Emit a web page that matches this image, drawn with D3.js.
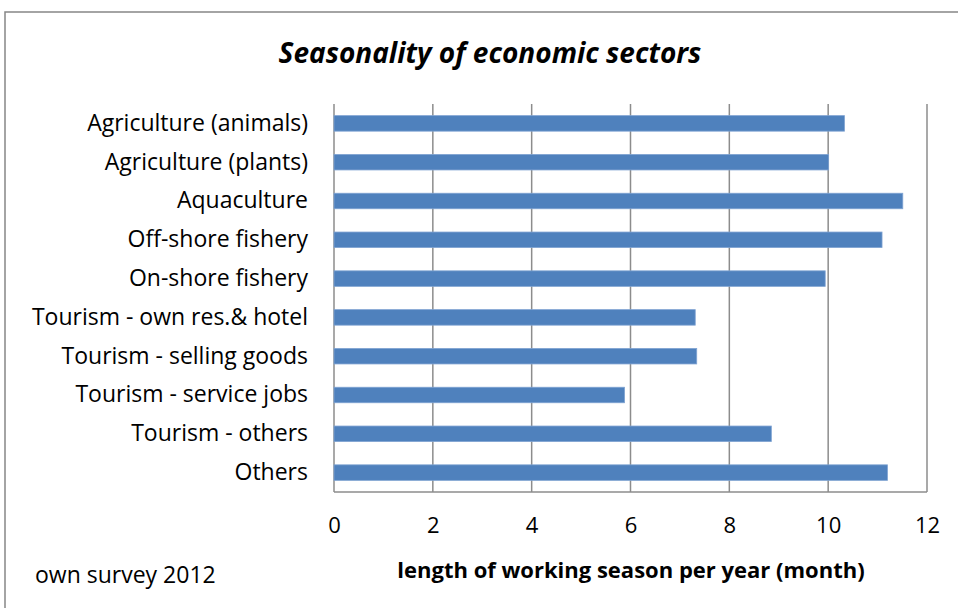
<!DOCTYPE html>
<html>
<head>
<meta charset="utf-8">
<script src="https://cdn.jsdelivr.net/npm/d3@7"></script>
<style>
  html, body { margin: 0; padding: 0; background: #fff; }
  svg { display: block; }
  text { font-family: "Open Sans", Lato, "Liberation Sans", sans-serif; fill: #000; }
</style>
</head>
<body>
<svg id="chart" width="958" height="608"></svg>
<script>
// Sectors, top to bottom
const sectors = [
  "Agriculture (animals)",
  "Agriculture (plants)",
  "Aquaculture",
  "Off-shore fishery",
  "On-shore fishery",
  "Tourism - own res.& hotel",
  "Tourism - selling goods",
  "Tourism - service jobs",
  "Tourism - others",
  "Others"
];
// Average length of working season (months)
const months = [10.33, 10.01, 11.51, 11.09, 9.94, 7.31, 7.34, 5.88, 8.85, 11.2];
// X axis ticks
const xTicks = [0, 2, 4, 6, 8, 10, 12];

const svg = d3.select("#chart");
const W = 958, H = 608;
const plot = { left: 334, right: 927, top: 104, bottom: 492 };
const FONT = "'Open Sans', Lato, sans-serif";

// Outer frame of the chart
svg.append("rect")
  .attr("x", 5).attr("y", 12)
  .attr("width", W).attr("height", H)
  .attr("fill", "#fff")
  .attr("stroke", "#868686").attr("stroke-width", 1.5);

const x = d3.scaleLinear().domain([0, 12]).range([plot.left, plot.right]);
const y = d3.scaleBand().domain(sectors).range([plot.top, plot.bottom]).paddingInner(0.6).paddingOuter(0.3);

// Vertical gridlines
svg.append("g")
  .selectAll("line")
  .data(xTicks)
  .join("line")
  .attr("x1", d => x(d)).attr("x2", d => x(d))
  .attr("y1", plot.top).attr("y2", plot.bottom)
  .attr("stroke", "#8c8c8c").attr("stroke-width", 1.5);

// Bottom axis line
svg.append("line")
  .attr("x1", plot.left).attr("x2", plot.right)
  .attr("y1", plot.bottom).attr("y2", plot.bottom)
  .attr("stroke", "#8c8c8c").attr("stroke-width", 1.5);

// Bars
svg.append("g")
  .selectAll("rect")
  .data(sectors)
  .join("rect")
  .attr("x", x(0))
  .attr("y", d => y(d))
  .attr("width", (d, i) => x(months[i]) - x(0))
  .attr("height", y.bandwidth())
  .attr("fill", "#4f81bd")
  .attr("stroke", "#7fa3d2").attr("stroke-width", 0.8);

// Category labels
const yAxis = d3.axisLeft(y).tickSize(0).tickPadding(0);
const gy = svg.append("g").attr("transform", `translate(${plot.left - 26},0)`).call(yAxis);
gy.select(".domain").remove();
gy.selectAll("text")
  .attr("font-size", 23)
  .attr("font-family", FONT)
  .attr("fill", "#000");

// Tick labels along the bottom
const xAxis = d3.axisBottom(x).tickValues(xTicks).tickSize(0).tickPadding(0);
const gx = svg.append("g").attr("transform", `translate(0,${plot.bottom + 25})`).call(xAxis);
gx.select(".domain").remove();
gx.selectAll("text")
  .attr("font-size", 22)
  .attr("font-family", FONT)
  .attr("fill", "#000");

// Title
svg.append("text")
  .attr("x", 490).attr("y", 63)
  .attr("text-anchor", "middle")
  .attr("font-size", 28)
  .attr("font-weight", "bold")
  .attr("font-style", "italic")
  .text("Seasonality of economic sectors");

// Axis title
svg.append("text")
  .attr("x", 631).attr("y", 578)
  .attr("text-anchor", "middle")
  .attr("font-size", 22)
  .attr("font-weight", "bold")
  .text("length of working season per year (month)");

// Source note
svg.append("text")
  .attr("x", 35).attr("y", 583)
  .attr("font-size", 23)
  .text("own survey 2012");
</script>
</body>
</html>
